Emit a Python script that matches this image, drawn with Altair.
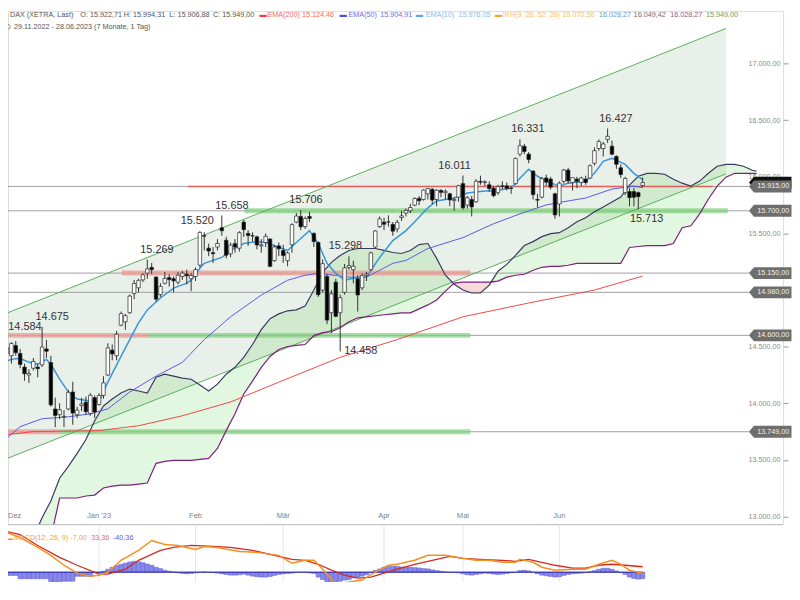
import altair as alt
import pandas as pd

FONT = "Liberation Sans, Arial, sans-serif"

# ---------------- data (trading-day index 0 = 29.11.2022) ----------------
opens = [14380,14350,14440,14420,14510,14440,14320,14250,14310,14320,
         14340,14480,14360,13950,13900,13880,13950,14100,13900,13980,
         14010,13910,14050,13990,14070,14250,14470,14420,14690,14720,
         14800,14970,15020,15090,15150,15200,15115,14960,15060,15110,
         15100,15070,15120,15140,15100,15120,15220,15480,15370,15330,
         15380,15550,15440,15320,15410,15370,15600,15500,15480,15470,
         15390,15420,15450,15260,15390,15350,15260,15400,15600,15650,
         15560,15650,15500,15420,15000,15120,14800,15070,14800,14980,
         15200,15180,15100,15020,15130,15180,15380,15560,15600,15600,
         15580,15540,15640,15680,15700,15750,15810,15800,15850,15890,
         15800,15880,15860,15850,15790,15820,15940,15750,15800,15780,
         15960,15950,15930,15900,15860,15920,15920,15900,15940,16200,
         16270,16200,16050,15800,15820,15990,15980,15850,15760,15960,
         16060,15950,15980,15950,15980,15990,16120,16250,16250,16330,
         16270,16180,16080,15860,15870,15870,15860,15922.71]
highs = [14420,14440,14584,14540,14550,14480,14350,14300,14400,14350,
         14675,14560,14420,14050,14000,13940,14120,14190,13970,14050,
         14060,14090,14070,14090,14240,14530,14520,14640,14810,14790,
         14960,15090,15100,15150,15269,15240,15120,15060,15160,15140,
         15120,15160,15170,15180,15150,15200,15520,15510,15410,15380,
         15450,15658,15470,15420,15450,15520,15620,15530,15510,15480,
         15450,15500,15460,15400,15420,15400,15340,15590,15680,15706,
         15650,15690,15510,15430,15270,15140,15000,15100,14960,15230,
         15298,15260,15130,15150,15160,15340,15530,15650,15640,15660,
         15600,15620,15700,15720,15760,15820,15830,15890,15900,15900,
         15890,15890,15890,15860,15820,15930,16011,15830,15830,15980,
         16010,15970,15960,15920,15930,15960,15950,15920,16170,16331,
         16290,16220,16060,15850,16000,16020,16000,15860,15960,16070,
         16080,15990,16000,16000,16010,16110,16260,16330,16310,16427,
         16320,16190,16110,16000,15900,15900,15870,15994.31]
lows = [14330,14290,14430,14350,14420,14310,14200,14180,14290,14230,
        14320,14400,13970,13790,13860,13790,13940,13810,13870,13930,
        13900,13890,13870,13980,14040,14240,14380,14380,14680,14650,
        14790,14920,14980,15070,15100,15140,14900,14940,15050,15030,
        14980,15050,15090,15050,14990,15080,15200,15350,15300,15240,
        15350,15480,15280,15290,15330,15340,15470,15390,15430,15360,
        15330,15380,15200,15250,15300,15240,15210,15330,15590,15530,
        15540,15600,15380,14940,14980,14700,14620,14760,14458,14960,
        15180,15060,14810,15000,15080,15170,15370,15550,15530,15560,
        15480,15510,15610,15650,15680,15740,15750,15790,15800,15760,
        15740,15820,15800,15740,15700,15780,15710,15720,15650,15770,
        15930,15920,15870,15820,15840,15890,15880,15850,15930,16180,
        16200,16120,15800,15730,15810,15920,15890,15630,15650,15940,
        15940,15880,15900,15920,15930,15980,16100,16230,16180,16300,
        16190,16070,15990,15840,15740,15740,15713,15906.88]
closes = [14355,14397,14490,14529,14447,14343,14261,14264,14370,14306,
          14497,14460,13986,13893,13943,13885,14097,13914,13940,13995,
          13926,14071,13924,14069,14181,14490,14436,14610,14792,14774,
          14947,15058,15086,15135,15187,15181,14920,15033,15103,15093,
          15081,15132,15150,15126,15128,15181,15509,15476,15345,15321,
          15412,15524,15308,15397,15380,15507,15534,15482,15478,15398,
          15400,15475,15210,15381,15365,15305,15328,15578,15654,15559,
          15631,15633,15428,14959,15233,14735,14967,14768,14933,15196,
          15216,15211,14957,15128,15142,15329,15522,15629,15581,15603,
          15520,15598,15655,15703,15729,15808,15789,15883,15896,15795,
          15882,15863,15872,15796,15800,15922,15726,15815,15734,15961,
          15953,15955,15896,15834,15914,15917,15898,15898,16163,16275,
          16224,16153,15843,15794,15984,15953,15909,15664,15944,16060,
          15964,15993,15960,15990,15950,16098,16231,16311,16290,16358,
          16200,16111,16020,15985,15816,15820,15825,15949.00]

month_idx = [2, 23, 45, 65, 88, 106, 128]
month_lbl = ["Dez", "Jan '23", "Feb", "Mär", "Apr", "Mai", "Jun"]

ema10_idx = [0,3,5,7,9,11,12,14,16,18,21,23,24,25,28,30,32,34,37,40,43,44,46,47,51,53,56,59,61,66,
             69,71,73,75,77,79,82,84,87,90,93,95,98,100,104,107,111,113,117,119,121,123,125,128,130,
             134,136,138,140,143,145,147]
ema10_val = [14345,14388,14397,14362,14345,14388,14345,14213,14100,14038,14021,14012,14100,14187,14414,
             14563,14711,14825,14930,15017,15061,15087,15192,15236,15288,15350,15411,15428,15420,15350,
             15455,15525,15411,15236,15149,15087,15114,15114,15288,15437,15525,15603,15726,15787,15813,
             15857,15874,15874,15900,15988,16066,16005,15962,15918,15944,15962,16031,16136,16163,16110,
             16031,15976]
ema50_idx = [0,5,10,16,21,25,30,36,42,47,53,60,66,70,73,80,84,87,90,93,98,106,113,119,125,130,134,140,145,147]
ema50_val = [13628,13794,13864,13881,13907,13951,14100,14240,14362,14563,14764,14956,15087,15131,15149,
             15114,15114,15175,15236,15262,15367,15463,15586,15673,15752,15787,15813,15892,15918,15905]
ema200_idx = [0,8,23,32,42,53,64,78,91,106,121,136,147]
ema200_val = [13715,13750,13759,13802,13890,14012,14187,14406,14563,14764,14886,15000,15124]

ikh_idx = [9, 10] + list(range(12, 174, 2)) + [173]
span_a = [12902,12990,13138,13339,13444,13558,13680,13846,13977,14038,14091,14126,14109,14091,14231,
          14257,14240,14222,14213,14161,14109,14169,14257,14318,14406,14519,14650,14747,14790,14817,
          14825,14860,15000,15157,15245,15306,15350,15367,15367,15367,15350,15332,15323,15350,15402,
          15411,15280,15131,15052,15000,14974,14974,15044,15166,15227,15306,15393,15428,15472,15498,
          15507,15551,15603,15638,15691,15734,15778,15822,15927,16005,16031,16031,16023,15979,15944,
          15918,15962,16031,16093,16110,16110,16093,16058,16049]
span_b = [12600,12700,12815,13164,13164,13164,13182,13190,13252,13269,13278,13278,13287,13296,13470,
          13488,13497,13497,13497,13505,13514,13601,13759,13907,14082,14196,14318,14414,14476,14502,
          14511,14519,14598,14624,14633,14668,14720,14755,14764,14773,14782,14790,14799,14799,14834,
          14869,14913,14991,15061,15070,15070,15070,15070,15079,15114,15131,15140,15175,15201,15210,
          15210,15219,15236,15236,15236,15236,15236,15236,15376,15385,15393,15393,15393,15411,15551,
          15568,15673,15804,15918,15997,16031,16031,16031,16028]

chan_idx = [0, 166]
chan_upper = [14767, 17310]
chan_lower = [13482, 16026]

levels = [15915, 15700, 15150, 14980, 14600, 13749]
band_price = [15700, 15150, 14600, 14600, 13749, 13749]
band_start = [56.2, 28.2, 0.0, 34.3, 0.0, 14.0]
band_end = [166.4, 107.7, 34.3, 107.7, 14.0, 107.7]
band_kind = ["support", "resist", "resist", "support", "resist", "support"]
redline_price = [15915]
redline_start = [43.3]
redline_end = [163.0]

annot_idx = [2.3, 12.3, 36.2, 45.4, 53.3, 70.2, 79.2, 104.1, 120.8, 140.9, 78.9, 147.9]
annot_price = [14584, 14675, 15269, 15520, 15658, 15706, 15298, 16011, 16331, 16427, 14458, 15713]
annot_kind = ["highleft"] + ["high"] * 9 + ["lowright", "low"]

macd_idx = [0,5,9,12,15,18,21,23,25,28,32,35,38,41,45,47,50,55,59,64,67,70,72,74,76,77,80,83,86,89,
            91,95,98,102,106,109,112,115,118,119,122,124,127,131,134,137,140,142,144,147]
macd_val = [260,210,150,102,42,-6,-24,-18,0,72,132,192,168,162,138,156,150,126,120,102,54,72,72,18,-42,
            -72,-60,-48,0,42,48,72,102,102,84,72,72,60,60,78,60,30,12,18,18,48,72,48,12,-7]
signal_idx = [0,5,9,14,18,23,25,29,32,37,40,44,49,53,58,62,67,70,73,76,79,82,85,88,91,95,100,103,106,
              110,115,118,121,124,127,131,134,137,140,143,147]
signal_val = [258,228,162,90,42,-12,-12,18,72,132,150,162,156,150,132,108,78,72,48,12,-18,-36,-30,-6,
              18,48,78,96,84,78,72,66,78,60,42,24,24,42,48,42,33]
hist_val = [-20,-20,-20,-20,-20,-40,-40,-40,-40,-40,
            -40,-40,-65,-65,-65,-55,-55,-55,-25,-25,
            -25,-25,-5,-5,6,18,30,40,48,55,
            62,66,64,58,50,42,30,22,12,6,
            2,-4,-8,-10,-8,-4,0,2,0,-2,
            -6,-10,-14,-18,-18,-16,-12,-18,-24,-28,
            -30,-30,-26,-20,-14,-10,-8,-6,-2,0,
            0,-4,-8,-30,-45,-60,-66,-64,-55,-48,
            -45,-35,-30,-24,-16,-4,10,20,30,36,
            36,36,32,30,30,28,26,22,20,14,
            10,6,2,0,-2,-4,-10,-16,-18,-14,
            -10,-6,-8,-12,-14,-12,-8,-4,0,10,
            12,8,0,-10,-18,-22,-26,-30,-28,-20,
            -14,-10,-8,-6,-2,4,10,18,24,24,
            18,8,-2,-14,-30,-38,-42,-40]

# 15.000 sits under the 14.980 tag in the original, so it is not listed
price_ticks = [13000, 13500, 14000, 14500, 15500, 16000, 16500, 17000, 17500]
last_price = 15949.00

legend1_text = ["DAX (XETRA, Last)", "O: 15.922,71", "H: 15.994,31", "L: 15.906,88", "C: 15.949,00",
                "▬", "EMA(200)", "15.124,46", "▬", "EMA(50)", "15.904,91", "▬", "EMA(10)", "15.976,05",
                "▬", "IKH(9, 26, 52, 26)", "16.070,56", "16.028,27", "16.049,42", "16.028,27", "15.949,00"]
legend1_color = ["#555555", "#555555", "#555555", "#555555", "#555555",
                 "#f03c3c", "#f26a6a", "#f26a6a", "#4b4be6", "#6f6fe8", "#6f6fe8", "#58a8e8", "#8cb8ee",
                 "#8cb8ee", "#f5a623", "#f8c06a", "#f8c06a", "#6d97c8", "#707070", "#8e5a8e", "#6a9a6a"]
legend2_text = ["29.11.2022 - 28.06.2023  (7 Monate, 1 Tag)"]
macd_leg_text = ["▬", "MACD(12, 26, 9)", "-7,00", "33,36", "-40,36"]
macd_leg_color = ["#f5901e", "#f5a04a", "#f5a04a", "#e87070", "#6060dd"]

# ---------------- layout (pixel positions of the decorations) ----------------
legend1_x = [2, 73, 117, 163, 207, 254, 262, 297, 335, 344, 376, 412, 422, 455, 492, 500, 560, 597, 632, 669, 705]
macd_leg_x = [0, 6, 63, 84, 106]
macd_leg_fs = [5, 7.3, 7.3, 7.3, 7.3]
W, H_MAIN, H_MACD = 783, 519, 58
H = H_MAIN + H_MACD
PXPP = H_MAIN / (17465.0 - 12928.5)          # pixels per index point in the price panel
XDOM = [2.226, 179.03]
YDOM = [12928.5 - H_MACD / PXPP, 17465.0]     # price scale over the whole height
MPX = 1 / 6.0                                  # pixels per MACD point
MDOM = [288 - H_MACD / MPX, 288 + H_MAIN / MPX]
LEG_FS = 7.3
TAG = "M-1.79,0L-1.37,-0.5L1.79,-0.5L1.79,0.5L-1.37,0.5Z"

LABEL_EXPR = ("replace(replace(replace(format(datum.value, ',.2f'), ',', '#'), '.', ','), '#', '.')")


def de(v):
    s = f"{v:,.2f}"
    return s.replace(",", "#").replace(".", ",").replace("#", ".")


def de0(v):
    return f"{v:,.0f}".replace(",", ".")


def X(f):
    return alt.X(f, type="quantitative", scale=alt.Scale(domain=XDOM, nice=False, zero=False), axis=None)


def Y(f, axis=None):
    return alt.Y(f, type="quantitative", scale=alt.Scale(domain=YDOM, nice=False, zero=False), axis=axis)


def MY(f, axis=None):
    return alt.Y(f, type="quantitative", scale=alt.Scale(domain=MDOM, nice=False, zero=False), axis=axis)


def axis_for(vals):
    return alt.Axis(orient="right", values=vals, labelExpr=LABEL_EXPR, labelAlign="right",
                    labelPadding=-8, tickSize=5, tickColor="#999999", domain=False, grid=False,
                    labelColor="#8a8a8a", labelFontSize=7.3, labelFont=FONT, title=None, zindex=0)


# ---------------- frames ----------------
candles = pd.DataFrame({"idx": list(range(len(closes))), "o": opens, "h": highs, "l": lows, "c": closes})
chan = pd.DataFrame({"idx": chan_idx, "up": chan_upper, "lo": chan_lower})
ikh = pd.DataFrame({"idx": ikh_idx, "a": span_a, "b": span_b})
e10 = pd.DataFrame({"idx": ema10_idx, "v": ema10_val})
e50 = pd.DataFrame({"idx": ema50_idx, "v": ema50_val})
e200 = pd.DataFrame({"idx": ema200_idx, "v": ema200_val})
lev = pd.DataFrame({"p": levels, "t": [de(v) for v in levels]})
bands = pd.DataFrame({"p": band_price, "s": band_start, "e": band_end, "k": band_kind})
redl = pd.DataFrame({"p": redline_price, "s": redline_start, "e": redline_end})
ann = pd.DataFrame({"idx": annot_idx, "p": annot_price, "k": annot_kind, "t": [de0(v) for v in annot_price]})
months = pd.DataFrame({"m": month_idx, "t": month_lbl})
lastp = pd.DataFrame({"p": [last_price]})
leg1 = pd.DataFrame({"t": legend1_text, "c": legend1_color, "x": legend1_x})
mleg = pd.DataFrame({"t": macd_leg_text, "c": macd_leg_color, "x": macd_leg_x, "fs": macd_leg_fs})
macd = pd.DataFrame({"idx": macd_idx, "v": macd_val})
sig = pd.DataFrame({"idx": signal_idx, "v": signal_val})
hist = pd.DataFrame({"idx": list(range(len(hist_val))), "v": hist_val})
zero = pd.DataFrame({"s": [0], "e": [len(hist_val) - 1], "z": [0]})

# ---------------- price panel ----------------
axis_layer = alt.Chart(pd.DataFrame({"p": price_ticks})).mark_point(opacity=0).encode(
    y=Y("p", axis_for(price_ticks)))

chan_fill = alt.Chart(chan).mark_area(clip=True, color="#8fb08f", opacity=0.2).encode(
    x=X("idx"), y=Y("up"), y2="lo")
cloud_g = alt.Chart(ikh).transform_calculate(top="max(datum.a, datum.b)").mark_area(
    clip=True, color="#7ddc6e", opacity=0.22).encode(x=X("idx"), y=Y("top"), y2="b")
cloud_r = alt.Chart(ikh).transform_calculate(bot="min(datum.a, datum.b)").mark_area(
    clip=True, color="#f2a0a0", opacity=0.4).encode(x=X("idx"), y=Y("b"), y2="bot")

lev_lines = alt.Chart(lev).mark_rule(color="#a0a0a0", strokeWidth=1).encode(
    x=alt.value(0), x2=alt.value(749), y=Y("p"))
band_r = alt.Chart(bands).transform_filter("datum.k == 'resist'").mark_rule(
    clip=True, color="#ec9a92", strokeWidth=5, opacity=0.75).encode(x=X("s"), x2="e", y=Y("p"))
band_g = alt.Chart(bands).transform_filter("datum.k == 'support'").mark_rule(
    clip=True, color="#7fd07a", strokeWidth=5, opacity=0.7).encode(x=X("s"), x2="e", y=Y("p"))
red_line = alt.Chart(redl).mark_rule(clip=True, color="#e06060", strokeWidth=1.5).encode(
    x=X("s"), x2="e", y=Y("p"))

chan_up = alt.Chart(chan).mark_line(clip=True, color="#5aae5a", strokeWidth=1).encode(x=X("idx"), y=Y("up"))
chan_lo = alt.Chart(chan).mark_line(clip=True, color="#5aae5a", strokeWidth=1).encode(x=X("idx"), y=Y("lo"))

span_a_l = alt.Chart(ikh).mark_line(clip=True, color="#3a3a62", strokeWidth=1.2).encode(x=X("idx"), y=Y("a"))
span_b_l = alt.Chart(ikh).mark_line(clip=True, color="#7e1e7e", strokeWidth=1.2).encode(x=X("idx"), y=Y("b"))

l200 = alt.Chart(e200).mark_line(clip=True, color="#f04848", strokeWidth=1).encode(x=X("idx"), y=Y("v"))
l50 = alt.Chart(e50).mark_line(clip=True, color="#5a5ae6", strokeWidth=1).encode(x=X("idx"), y=Y("v"))
l10 = alt.Chart(e10).mark_line(clip=True, color="#3796dc", strokeWidth=1.5).encode(x=X("idx"), y=Y("v"))

wicks = alt.Chart(candles).mark_rule(clip=True, color="#333333", strokeWidth=1).encode(
    x=X("idx"), y=Y("l"), y2="h")
bodies = alt.Chart(candles).transform_calculate(
    x1="datum.idx - 0.4", x2="datum.idx + 0.4").mark_bar(
    clip=True, stroke="#262626", strokeWidth=0.7).encode(
    x=X("x1"), x2="x2", y=Y("o"), y2="c",
    fill=alt.condition("datum.c >= datum.o", alt.value("#ffffff"), alt.value("#000000")))

ann_hi = alt.Chart(ann).transform_filter("datum.k == 'high'").mark_text(
    fontSize=11, color="#333333", baseline="middle", dy=-10, font=FONT).encode(
    x=X("idx"), y=Y("p"), text="t")
ann_hl = alt.Chart(ann).transform_filter("datum.k == 'highleft'").mark_text(
    fontSize=11, color="#333333", baseline="middle", align="left", dy=-10, font=FONT).encode(
    x=X("idx"), y=Y("p"), text="t")
ann_lo = alt.Chart(ann).transform_filter("datum.k == 'low'").mark_text(
    fontSize=11, color="#333333", baseline="middle", dy=10, font=FONT).encode(
    x=X("idx"), y=Y("p"), text="t")
ann_lr = alt.Chart(ann).transform_filter("datum.k == 'lowright'").mark_text(
    fontSize=11, color="#333333", baseline="middle", align="left", font=FONT).encode(
    x=X("idx"), y=Y("p"), text="t")

last_tag = alt.Chart(lastp).mark_point(shape=TAG, size=576, filled=True, color="#111111", opacity=1).encode(
    x=alt.value(770), y=Y("p"))
tags = alt.Chart(lev).mark_point(shape=TAG, size=576, filled=True, color="#6e6e6e", opacity=1).encode(
    x=alt.value(770), y=Y("p"))
tag_txt = alt.Chart(lev).mark_text(fontSize=7.3, color="#f0f0f0", align="center", baseline="middle",
                                   font=FONT).encode(x=alt.value(773), y=Y("p"), text="t")

leg1_l = alt.Chart(leg1).mark_text(fontSize=LEG_FS, align="left", baseline="middle", font=FONT).encode(
    x=alt.X("x:Q", scale=None), y=alt.value(4), text="t", color=alt.Color("c:N", scale=None))
leg2_l = alt.Chart(pd.DataFrame({"t": legend2_text})).mark_text(
    fontSize=LEG_FS, align="left", baseline="middle", color="#555555", font=FONT).encode(
    x=alt.value(6), y=alt.value(16), text="t")
clock = alt.Chart(pd.DataFrame({"t": legend2_text})).mark_point(
    shape="circle", size=22, color="#666666", filled=False, strokeWidth=1).encode(
    x=alt.value(0), y=alt.value(16))

mon_lbl = alt.Chart(months).transform_filter("datum.m > 5").mark_text(
    fontSize=7.6, color="#808080", baseline="middle", font=FONT).encode(x=X("m"), y=alt.value(510), text="t")
mon_first = alt.Chart(months).transform_filter("datum.m <= 5").mark_text(
    fontSize=7.6, color="#808080", baseline="middle", align="left", font=FONT).encode(
    x=alt.value(0), y=alt.value(510), text="t")

# white sheet that closes the price panel at its bottom edge
sheet = alt.Chart(lastp).mark_rect(color="white").encode(
    x=alt.value(-20), x2=alt.value(W + 20), y=alt.value(H_MAIN), y2=alt.value(H + 20))
bottom_line = alt.Chart(lastp).mark_rule(color="#b5b5b5", strokeWidth=1).encode(
    x=alt.value(0), x2=alt.value(W), y=alt.value(H_MAIN))

# ---------------- MACD panel ----------------
m_axis = alt.Chart(zero).mark_point(opacity=0).encode(y=MY("z", axis_for([0])))
m_grid = alt.Chart(months).mark_rule(color="#e6e6e6", strokeWidth=1).encode(
    x=X("m"), y=alt.value(H_MAIN), y2=alt.value(H))
m_hist = alt.Chart(hist).transform_calculate(x1="datum.idx - 0.5", x2="datum.idx + 0.5").mark_bar(
    clip=True, fill="#8888ea", stroke="#5050c8", strokeWidth=0.4).encode(
    x=X("x1"), x2="x2", y=MY("v"), y2=alt.datum(0))
m_zero = alt.Chart(zero).mark_rule(color="#2020a8", strokeWidth=1).encode(x=X("s"), x2="e", y=MY("z"))
m_sig = alt.Chart(sig).mark_line(clip=True, color="#d42a1e", strokeWidth=1.3).encode(x=X("idx"), y=MY("v"))
m_macd = alt.Chart(macd).mark_line(clip=True, color="#f5901e", strokeWidth=1.5).encode(x=X("idx"), y=MY("v"))
m_leg = alt.Chart(mleg).mark_text(align="left", baseline="middle", font=FONT).encode(
    x=alt.X("x:Q", scale=None), y=alt.value(H_MAIN + 13), text="t",
    color=alt.Color("c:N", scale=None), size=alt.Size("fs:Q", scale=None))

chart = alt.layer(
    axis_layer, chan_fill, cloud_g, cloud_r, lev_lines, band_r, band_g, red_line,
    chan_up, chan_lo, span_a_l, span_b_l, l200, l50, l10, wicks, bodies,
    ann_hi, ann_hl, ann_lo, ann_lr, last_tag, tags, tag_txt, leg1_l, clock, leg2_l, mon_lbl, mon_first,
    sheet, bottom_line,
    m_axis, m_grid, m_hist, m_zero, m_sig, m_macd, m_leg
).resolve_scale(y="independent").properties(
    width=W, height=H,
    autosize=alt.AutoSizeParams(type="none"),
    padding={"left": 0, "top": 0, "right": 9, "bottom": 0},
).configure_view(stroke=None).configure(font=FONT)

chart.save("out.html", embed_options={"renderer": "svg", "actions": False})
